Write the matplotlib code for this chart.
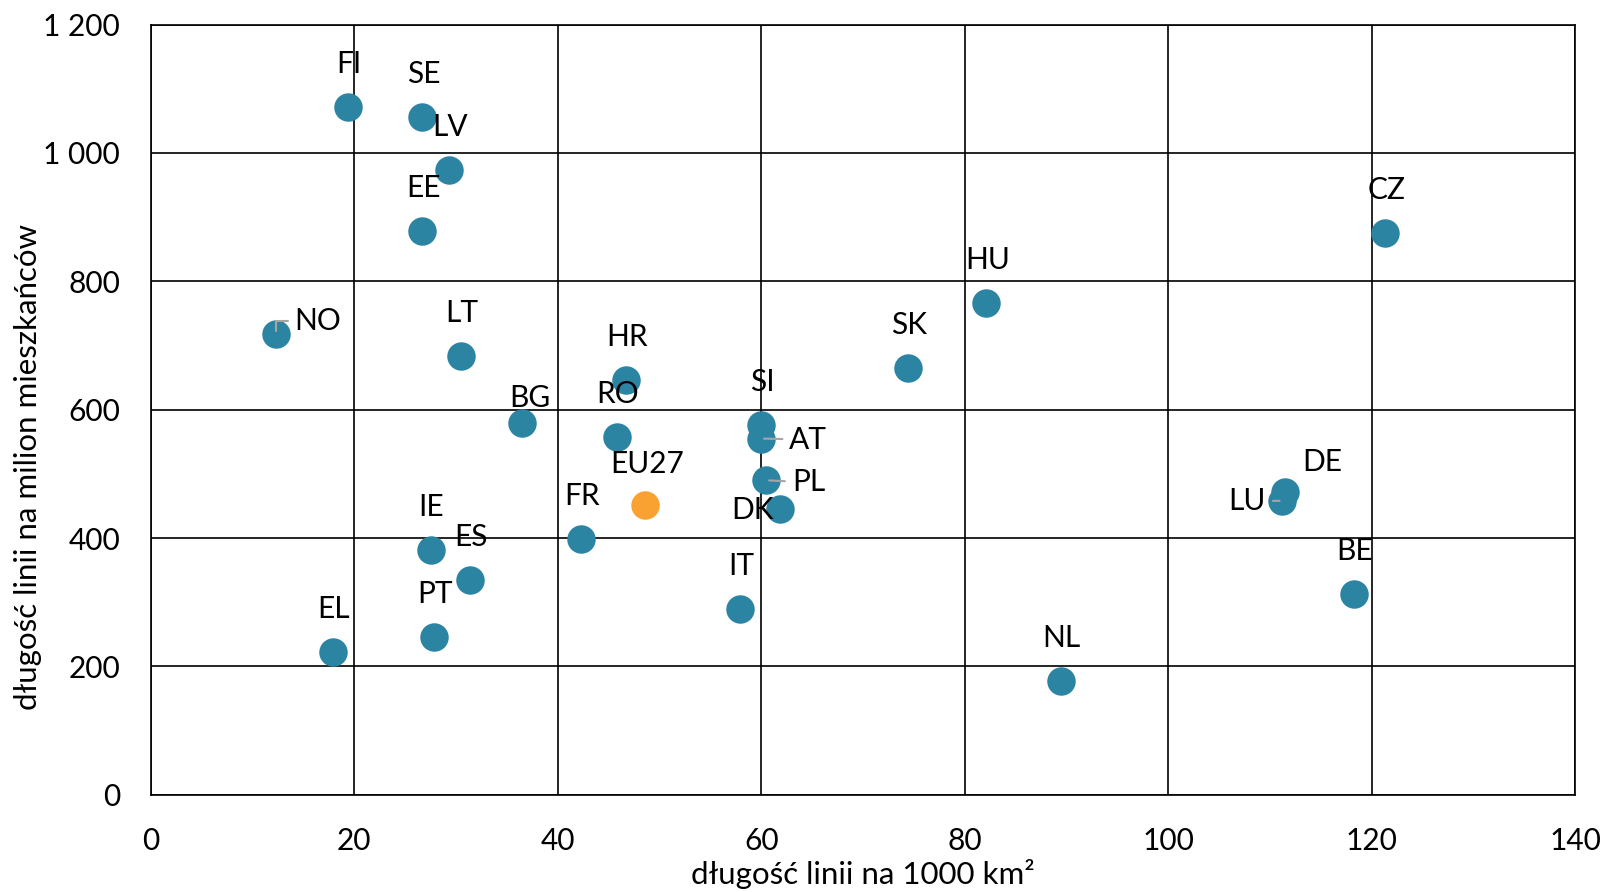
import numpy as np
import matplotlib
matplotlib.use('Agg')
import matplotlib.pyplot as plt

plt.rcParams['font.family'] = ['Lato', 'DejaVu Sans']

# country data: density of lines per 1000 km2 vs per million inhabitants
codes = ['FI', 'SE', 'LV', 'EE', 'NO', 'LT', 'BG', 'HR', 'RO', 'FR', 'IE', 'ES',
         'PT', 'EL', 'SI', 'AT', 'PL', 'DK', 'IT', 'SK', 'HU', 'NL', 'DE', 'LU',
         'BE', 'CZ']
per_area = [19.4, 26.7, 29.3, 26.7, 12.3, 30.5, 36.5, 46.7, 45.8, 42.3, 27.5, 31.4,
            27.8, 17.9, 60.0, 60.0, 60.5, 61.8, 57.9, 74.4, 82.1, 89.4, 111.5, 111.2,
            118.2, 121.3]
per_pop = [1071, 1056, 973, 879, 718, 684, 579, 646, 557, 399, 381, 335,
           246, 222, 576, 555, 490, 445, 290, 665, 767, 177, 472, 458,
           313, 876]

eu_code = 'EU27'
eu_area = 48.6
eu_pop = 452

# label offsets in pixels (dx, dy), default above the marker
offsets = {
    'BG': (8, 25), 'NO': (42, 13), 'AT': (47, -1), 'PL': (42, -2),
    'DK': (-27, -1), 'DE': (37, 30), 'LU': (-35, 0),
}
leaders = ['NO', 'AT', 'PL', 'LU']

fig = plt.figure(figsize=(16.06, 8.92), dpi=100)
ax = fig.add_axes([0.0938, 0.109, 0.8872, 0.8634])

blue = '#2C84A3'
orange = '#F9A232'
ax.scatter(per_area, per_pop, s=420, color=blue, zorder=3, linewidths=0)
ax.scatter([eu_area], [eu_pop], s=420, color=orange, zorder=3, linewidths=0)

fs = 21.5
for c, x, y in zip(codes, per_area, per_pop):
    dx, dy = offsets.get(c, (1, 43))
    if c in leaders:
        if c == 'NO':
            conn = 'angle,angleA=0,angleB=90,rad=0'
        else:
            conn = 'arc3'
        ax.annotate(c, (x, y), xytext=(dx, dy), textcoords='offset pixels',
                    ha='center', va='center', fontsize=fs, zorder=5,
                    arrowprops=dict(arrowstyle='-', color='#A6A6A6', lw=1.5,
                                    shrinkA=3, shrinkB=2, connectionstyle=conn))
    else:
        ax.annotate(c, (x, y), xytext=(dx, dy), textcoords='offset pixels',
                    ha='center', va='center', fontsize=fs, zorder=5)
ax.annotate(eu_code, (eu_area, eu_pop), xytext=(2, 41), textcoords='offset pixels',
            ha='center', va='center', fontsize=fs, zorder=5)

ax.set_xlim(0, 140)
ax.set_ylim(0, 1200)
ax.set_xticks(np.arange(0, 141, 20))
ax.set_yticks(np.arange(0, 1201, 200))
ax.set_yticklabels([f'{v:,}'.replace(',', ' ') for v in range(0, 1201, 200)])
ax.grid(True, color='black', lw=1.2)
ax.set_axisbelow(True)
for s in ax.spines.values():
    s.set_color('black')
    s.set_linewidth(1.2)
ax.tick_params(length=0, labelsize=fs)
ax.tick_params(axis='x', pad=23)
ax.tick_params(axis='y', pad=22)

ax.set_xlabel('długość linii na 1000 km²', fontsize=22.5)
ax.set_ylabel('długość linii na milion mieszkańców', fontsize=22.5)
ax.xaxis.set_label_coords(0.5, -0.083)
ax.yaxis.set_label_coords(-0.0765, 0.425)

fig.savefig('out.png', dpi=100)
